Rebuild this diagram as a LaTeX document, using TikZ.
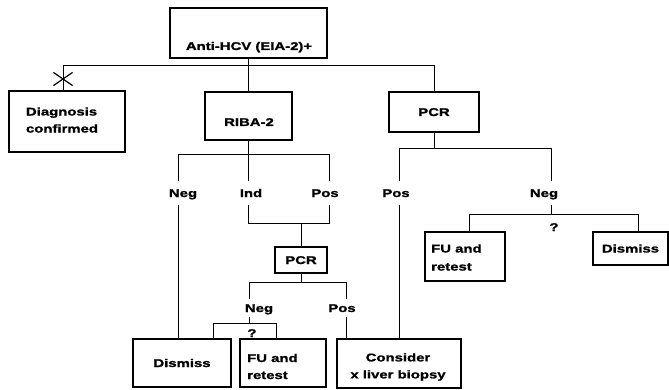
\documentclass[tikz,border=0pt]{standalone}
\usepackage{fontspec}
\setmainfont{Liberation Sans}[FakeStretch=1.33, BoldFeatures={FakeBold=1.3}]
\usetikzlibrary{shapes.misc}
\begin{document}
\begin{tikzpicture}[x=1pt,y=-1pt,
  box/.style={draw, line width=1.2pt, inner sep=0pt},
  txt/.style={font=\fontsize{11.2}{17}\selectfont\bfseries, inner sep=0pt, text height=8pt, text depth=0pt},
  mtxt/.style={font=\fontsize{11.2}{17}\selectfont\bfseries, inner sep=0pt},
  lab/.style={txt, minimum height=24pt},
  labb/.style={txt, minimum height=17pt},
  ln/.style={line width=1pt}]
\useasboundingbox (0,0) rectangle (669,390);

% boxes
\node[box, minimum width=157pt, minimum height=50pt] (top) at (248.5,33) {};
\node[txt] (toptxt) at (249,46) {Anti-HCV (EIA-2)+};
\node[box, minimum width=116pt, minimum height=61pt] (diag) at (67,121.5) {};
\node[mtxt, align=left] (diagtxt) at (62,120) {Diagnosis\\confirmed};
\node[box, minimum width=87pt, minimum height=48pt] (riba) at (248.5,116) {};
\node[txt] (ribatxt) at (249,122) {RIBA-2};
\node[box, txt, minimum width=90pt, minimum height=40pt] (pcr1) at (434,112) {PCR};
\node[box, txt, minimum width=52pt, minimum height=26pt] (pcr2) at (301,260) {PCR};
\node[box, txt, minimum width=98pt, minimum height=48pt] (dis1) at (182,363) {Dismiss};
\node[box, minimum width=86pt, minimum height=48pt] (fu1) at (283,363) {};
\node[mtxt, align=left, anchor=west] (fu1txt) at (247,366.5) {FU and\\retest};
\node[box, minimum width=124pt, minimum height=49pt] (cons) at (399,363.5) {};
\node[mtxt, align=center] (constxt) at (398,367) {Consider\\x liver biopsy};
\node[box, minimum width=80pt, minimum height=49pt] (fu2) at (465,256.5) {};
\node[mtxt, align=left, anchor=west, font=\fontsize{11.2}{18}\selectfont\bfseries] (fu2txt) at (431,257.5) {FU and\\retest};
\node[box, txt, minimum width=75pt, minimum height=33pt] (dis2) at (630.5,248.5) {Dismiss};

% labels
\node[lab] (neg1) at (183,193) {Neg};
\node[lab] (ind1) at (251,193) {Ind};
\node[lab] (pos1) at (325,193) {Pos};
\node[lab] (pos3) at (396,193) {Pos};
\node[lab] (neg3) at (544,193) {Neg};
\node[labb] (neg2) at (259,308) {Neg};
\node[labb] (pos2) at (342,308) {Pos};
\node[txt] (q1txt) at (252,333) {?};
\node[txt] (q2txt) at (554,227) {?};

% cross mark
\node[cross out, draw, line width=1.2pt, minimum width=18pt, minimum height=12pt, inner sep=0pt] (xm) at (63,79) {};

% junction coordinates
\coordinate (j0) at (249,66);
\coordinate (c1) at (178,155);
\coordinate (c3) at (329,155);
\coordinate (j2) at (302,223);
\coordinate (j3) at (249,282);
\coordinate (c4) at (346,282);
\coordinate (j4) at (249,323);
\coordinate (q1) at (213,323);
\coordinate (q2) at (276,323);
\coordinate (c5) at (399,149);
\coordinate (c6) at (551,149);
\coordinate (j5) at (551,215);
\coordinate (q3) at (469,215);
\coordinate (q4) at (638,215);

% connectors
\draw[ln] (top.south) -- (riba.north);
\draw[ln] (xm |- diag.north) -- (xm |- j0) -- (pcr1.north |- j0) -- (pcr1.north);

\draw[ln] (riba.south) -- (riba.south |- ind1.north);
\draw[ln] (c1 |- neg1.north) -- (c1) -- (c3) -- (c3 |- pos1.north);
\draw[ln] (c1 |- neg1.south) -- (c1 |- dis1.north);
\draw[ln] (riba.south |- ind1.south) -- (riba.south |- j2) -- (c3 |- j2) -- (c3 |- pos1.south);
\draw[ln] (pcr2.north |- j2) -- (pcr2.north);

\draw[ln] (pcr2.south) -- (pcr2.south |- j3);
\draw[ln] (j3 |- neg2.north) -- (j3) -- (c4) -- (c4 |- pos2.north);
\draw[ln] (j3 |- neg2.south) -- (j4);
\draw[ln] (q1 |- dis1.north) -- (q1) -- (q2) -- (q2 |- fu1.north);
\draw[ln] (c4 |- pos2.south) -- (c4 |- cons.north);

\draw[ln] (pcr1.south) -- (pcr1.south |- c5);
\draw[ln] (c5 |- pos3.north) -- (c5) -- (c6) -- (c6 |- neg3.north);
\draw[ln] (c5 |- pos3.south) -- (c5 |- cons.north);
\draw[ln] (c6 |- neg3.south) -- (j5);
\draw[ln] (q3 |- fu2.north) -- (q3) -- (q4) -- (q4 |- dis2.north);
\end{tikzpicture}
\end{document}
